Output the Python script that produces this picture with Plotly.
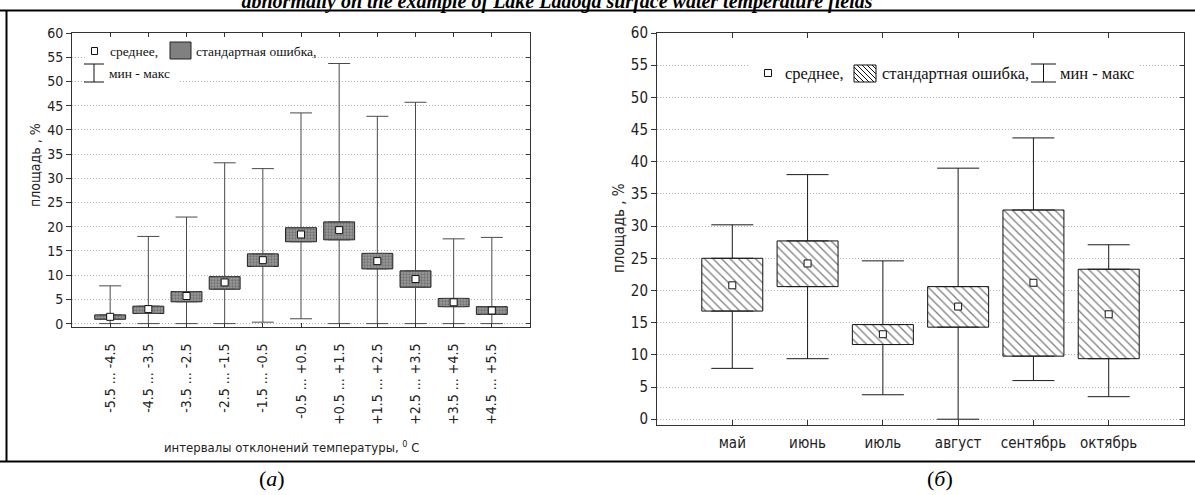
import plotly.graph_objects as go

W, H = 1195, 495

# ---------------- data: panel (а) ----------------
left_labels = ["-5.5 ... -4.5", "-4.5 ... -3.5", "-3.5 ... -2.5", "-2.5 ... -1.5",
               "-1.5 ... -0.5", "-0.5 ... +0.5", "+0.5 ... +1.5", "+1.5 ... +2.5",
               "+2.5 ... +3.5", "+3.5 ... +4.5", "+4.5 ... +5.5"]
left_mean = [1.4, 3.0, 5.7, 8.5, 13.1, 18.4, 19.3, 12.9, 9.2, 4.4, 2.7]
left_se_low = [0.9, 2.1, 4.5, 7.1, 11.8, 16.9, 17.3, 11.3, 7.5, 3.5, 1.9]
left_se_high = [1.8, 3.6, 6.6, 9.7, 14.4, 19.8, 21.0, 14.5, 10.9, 5.2, 3.5]
left_min = [0.0, 0.0, 0.0, 0.0, 0.3, 1.0, 0.0, 0.0, 0.0, 0.0, 0.0]
left_max = [7.8, 18.0, 22.0, 33.2, 32.0, 43.5, 53.7, 42.8, 45.7, 17.5, 17.8]

# ---------------- data: panel (б) ----------------
right_labels = ["май", "июнь", "июль", "август", "сентябрь", "октябрь"]
right_mean = [20.8, 24.2, 13.2, 17.5, 21.2, 16.3]
right_se_low = [16.8, 20.6, 11.6, 14.3, 9.8, 9.4]
right_se_high = [25.0, 27.7, 14.7, 20.6, 32.5, 23.3]
right_min = [7.9, 9.4, 3.8, 0.0, 6.0, 3.5]
right_max = [30.2, 38.0, 24.6, 39.0, 43.7, 27.1]

y_ticks = list(range(0, 61, 5))

SANS = "Liberation Sans Narrow, DejaVu Sans Condensed, Liberation Sans, sans-serif"
SERIF = "Liberation Serif, Times New Roman, serif"


def px(x):
    return x / W


def py(y):
    return 1 - y / H


fig = go.Figure()


def add_panel(xs, mean, lo, hi, mn, mx, xa, ya, cap, wcol, bar_marker):
    # lower whisker (min -> box bottom)
    fig.add_trace(go.Scatter(
        x=xs, y=lo, mode="markers", marker=dict(size=1, color="rgba(0,0,0,0)"),
        error_y=dict(type="data", symmetric=False, array=[0] * len(xs),
                     arrayminus=[a - b for a, b in zip(lo, mn)],
                     width=cap, thickness=1, color=wcol),
        xaxis=xa, yaxis=ya, hoverinfo="skip", showlegend=False))
    # upper whisker (box top -> max)
    fig.add_trace(go.Scatter(
        x=xs, y=hi, mode="markers", marker=dict(size=1, color="rgba(0,0,0,0)"),
        error_y=dict(type="data", symmetric=False,
                     array=[b - a for a, b in zip(hi, mx)], arrayminus=[0] * len(xs),
                     width=cap, thickness=1, color=wcol),
        xaxis=xa, yaxis=ya, hoverinfo="skip", showlegend=False))
    # standard-error boxes
    fig.add_trace(go.Bar(
        x=xs, y=[b - a for a, b in zip(lo, hi)], base=lo, width=0.81,
        marker=bar_marker, xaxis=xa, yaxis=ya, showlegend=False, hoverinfo="skip"))
    # means
    fig.add_trace(go.Scatter(
        x=xs, y=mean, mode="markers",
        marker=dict(symbol="square", size=7, color="white", line=dict(color="#111", width=1)),
        xaxis=xa, yaxis=ya, showlegend=False, hoverinfo="skip"))


lx = list(range(1, len(left_labels) + 1))
rx = list(range(1, len(right_labels) + 1))

add_panel(lx, left_mean, left_se_low, left_se_high, left_min, left_max, "x", "y", 11, "#4a4a4a",
          dict(color="#808080", line=dict(color="#222", width=1),
               pattern=dict(shape=".", fgcolor="#4a4a4a", bgcolor="#9a9a9a", size=3, solidity=0.45)))
add_panel(rx, right_mean, right_se_low, right_se_high, right_min, right_max, "x2", "y2", 21, "#1a1a1a",
          dict(color="white", line=dict(color="#111", width=1),
               pattern=dict(shape="\\", fgcolor="#000000", bgcolor="white", size=6, solidity=0.22)))

# dummy traces so the right-side tick axes are created
fig.add_trace(go.Scatter(x=[None], y=[None], xaxis="x", yaxis="y3", showlegend=False))
fig.add_trace(go.Scatter(x=[None], y=[None], xaxis="x2", yaxis="y4", showlegend=False))

axis_line = "#333333"
grid = dict(showgrid=True, gridcolor="#b4b4b4", griddash="1px,2px", gridwidth=1)

fig.update_layout(
    width=W, height=H, margin=dict(l=0, r=0, t=0, b=0, autoexpand=False),
    paper_bgcolor="white", plot_bgcolor="white", showlegend=False, barmode="overlay",
    title=dict(text="<b><i>abnormally on the example of Lake Ladoga surface water temperature fields</i></b>",
               x=px(557), xanchor="center", xref="container", yref="container",
               y=py(8), yanchor="bottom", automargin=False,
               font=dict(family=SERIF, size=20, color="#000")),
    xaxis=dict(domain=[px(72), px(530)], range=[0, 12], tickvals=lx, ticktext=left_labels,
               tickangle=-90, ticks="inside", ticklen=4, tickcolor=axis_line, mirror="ticks",
               ticklabelstandoff=10,
               showline=True, linecolor=axis_line, linewidth=1, showgrid=False, zeroline=False,
               tickfont=dict(family=SANS, size=14, color="#222"), anchor="y"),
    yaxis=dict(domain=[py(327), py(33)], range=[-0.7, 60], tickvals=y_ticks,
               ticks="outside", ticklen=5, tickcolor=axis_line, showline=True, mirror=True,
               linecolor=axis_line, linewidth=1, zeroline=False,
               tickfont=dict(family=SANS, size=14, color="#222"), anchor="x", **grid),
    yaxis3=dict(overlaying="y", side="right", anchor="x", range=[-0.7, 60], tickvals=y_ticks,
                ticks="inside", ticklen=4, tickcolor=axis_line, showticklabels=False,
                showgrid=False, showline=False, zeroline=False),
    xaxis2=dict(domain=[px(657), px(1184)], range=[0, 7], tickvals=rx, ticktext=right_labels,
                ticks="inside", ticklen=5, tickcolor=axis_line, mirror="ticks",
                ticklabelstandoff=4,
                showline=True, linecolor=axis_line, linewidth=1, showgrid=False, zeroline=False,
                tickfont=dict(family=SANS, size=15, color="#222"), anchor="y2"),
    yaxis2=dict(domain=[py(425), py(33)], range=[-0.9, 60], tickvals=y_ticks,
                ticks="outside", ticklen=5, tickcolor=axis_line, showline=True, mirror=True,
                linecolor=axis_line, linewidth=1, zeroline=False,
                tickfont=dict(family=SANS, size=15, color="#222"), anchor="x2", **grid),
    yaxis4=dict(overlaying="y2", side="right", anchor="x2", range=[-0.9, 60], tickvals=y_ticks,
                ticks="inside", ticklen=4, tickcolor=axis_line, showticklabels=False,
                showgrid=False, showline=False, zeroline=False),
)

shapes = []


def rect(x0, y0, x1, y1, fill="white", line=None):
    shapes.append(dict(type="rect", xref="paper", yref="paper", layer="above",
                       x0=px(x0), x1=px(x1), y0=py(y1), y1=py(y0), fillcolor=fill,
                       line=line if line else dict(width=0)))


def seg(x0, y0, x1, y1, color="#111", width=1):
    shapes.append(dict(type="line", xref="paper", yref="paper", layer="above",
                       x0=px(x0), x1=px(x1), y0=py(y0), y1=py(y1),
                       line=dict(color=color, width=width)))


# page frame
seg(0, 10.5, W, 10.5, "#000", 2)
seg(0, 461.5, W, 461.5, "#000", 2)
seg(6.5, 10.5, 6.5, 461.5, "#000", 2)

# legend backgrounds
rect(86, 40, 312, 62)
rect(86, 62, 179, 86)
rect(750, 58, 1139, 88)

# left legend glyphs
rect(91.5, 47.5, 97.5, 54.5, "white", dict(color="#111", width=1))
rect(170, 42, 191, 59, "#808080", dict(color="#222", width=1))
seg(84, 64, 104, 64)
seg(94, 64, 94, 82)
seg(84, 82, 104, 82)

# right legend glyphs
rect(764.5, 69.5, 771.5, 76.5, "white", dict(color="#111", width=1))
hx0, hy0, hx1, hy1 = 854, 65, 876, 82
rect(hx0, hy0, hx1, hy1, "white", dict(color="#111", width=1))
c = hx0 - hy1
while c < hx1 - hy0:
    ya0 = max(hy0, hx0 - c)
    ya1 = min(hy1, hx1 - c)
    if ya1 > ya0:
        seg(ya0 + c, ya0, ya1 + c, ya1, "#111", 1)
    c += 5
seg(1031, 64, 1056, 64)
seg(1043.5, 64, 1043.5, 82)
seg(1031, 82, 1056, 82)

fig.update_layout(shapes=shapes)

ann = []


def text(x, y, s, size, family, xanchor="left", yanchor="middle", angle=0, color="#111"):
    ann.append(dict(x=px(x), y=py(y), xref="paper", yref="paper", text=s, showarrow=False,
                    xanchor=xanchor, yanchor=yanchor, textangle=angle,
                    font=dict(family=family, size=size, color=color)))


text(108, 51, "среднее,", 13.5, SERIF)
text(194, 51, "стандартная ошибка,", 13.5, SERIF)
text(107, 74, "мин - макс", 13.5, SERIF)
text(783, 73, "среднее,", 16.5, SERIF)
text(880, 73, "стандартная ошибка,", 16.5, SERIF)
text(1058, 73, "мин - макс", 16.5, SERIF)

text(35, 165, "площадь , %", 14, SANS, "center", "middle", -90, "#222")
text(619, 228, "площадь , %", 15, SANS, "center", "middle", -90, "#222")
text(291, 447, "интервалы отклонений температуры, <sup>0</sup> С", 13, SANS, "center", "middle", 0, "#222")

text(272, 478, "(<i>а</i>)", 22, SERIF, "center", "middle", 0, "#000")
text(940, 478, "(<i>б</i>)", 22, SERIF, "center", "middle", 0, "#000")

fig.update_layout(annotations=ann)

fig.write_html("out.html")
